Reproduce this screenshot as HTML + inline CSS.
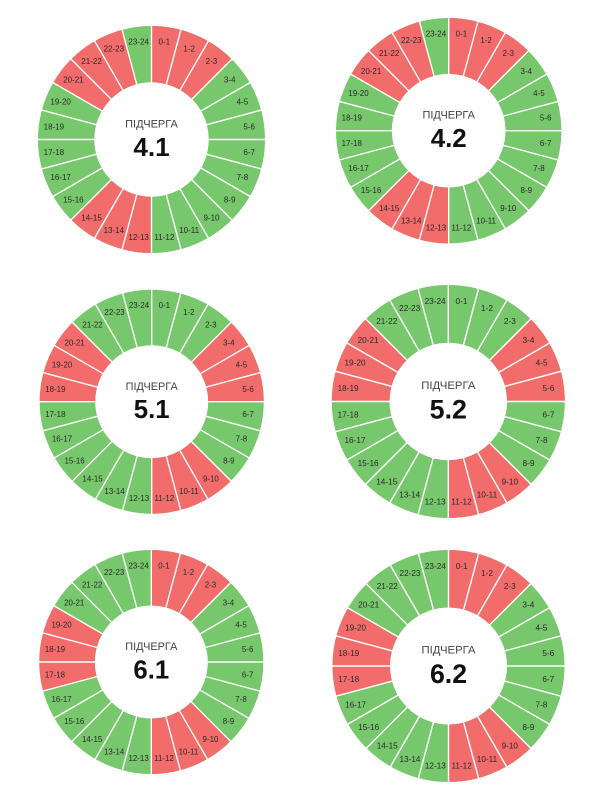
<!DOCTYPE html>
<html>
<head>
<meta charset="utf-8">
<style>
html,body{margin:0;padding:0;background:#fff;}
svg{display:block;}
.lbl{font-family:"Liberation Sans","DejaVu Sans",sans-serif;font-size:8px;fill:#2a2a2a;text-anchor:middle;}
.ttl{font-family:"Liberation Sans","DejaVu Sans",sans-serif;font-size:11px;fill:#444;text-anchor:middle;}
.num{font-family:"Liberation Sans","DejaVu Sans",sans-serif;font-size:26px;font-weight:bold;fill:#111;text-anchor:middle;}
</style>
</head>
<body>
<svg width="600" height="800" viewBox="0 0 600 800" xmlns="http://www.w3.org/2000/svg">
<defs>
<g id="sep" stroke="#fff" stroke-width="1.4">
<line x1="0" y1="-56" x2="0" y2="-115" transform="rotate(0)"/>
<line x1="0" y1="-56" x2="0" y2="-115" transform="rotate(15)"/>
<line x1="0" y1="-56" x2="0" y2="-115" transform="rotate(30)"/>
<line x1="0" y1="-56" x2="0" y2="-115" transform="rotate(45)"/>
<line x1="0" y1="-56" x2="0" y2="-115" transform="rotate(60)"/>
<line x1="0" y1="-56" x2="0" y2="-115" transform="rotate(75)"/>
<line x1="0" y1="-56" x2="0" y2="-115" transform="rotate(90)"/>
<line x1="0" y1="-56" x2="0" y2="-115" transform="rotate(105)"/>
<line x1="0" y1="-56" x2="0" y2="-115" transform="rotate(120)"/>
<line x1="0" y1="-56" x2="0" y2="-115" transform="rotate(135)"/>
<line x1="0" y1="-56" x2="0" y2="-115" transform="rotate(150)"/>
<line x1="0" y1="-56" x2="0" y2="-115" transform="rotate(165)"/>
<line x1="0" y1="-56" x2="0" y2="-115" transform="rotate(180)"/>
<line x1="0" y1="-56" x2="0" y2="-115" transform="rotate(195)"/>
<line x1="0" y1="-56" x2="0" y2="-115" transform="rotate(210)"/>
<line x1="0" y1="-56" x2="0" y2="-115" transform="rotate(225)"/>
<line x1="0" y1="-56" x2="0" y2="-115" transform="rotate(240)"/>
<line x1="0" y1="-56" x2="0" y2="-115" transform="rotate(255)"/>
<line x1="0" y1="-56" x2="0" y2="-115" transform="rotate(270)"/>
<line x1="0" y1="-56" x2="0" y2="-115" transform="rotate(285)"/>
<line x1="0" y1="-56" x2="0" y2="-115" transform="rotate(300)"/>
<line x1="0" y1="-56" x2="0" y2="-115" transform="rotate(315)"/>
<line x1="0" y1="-56" x2="0" y2="-115" transform="rotate(330)"/>
<line x1="0" y1="-56" x2="0" y2="-115" transform="rotate(345)"/>
</g>
</defs>

<!-- Chart 4.1 -->
<g transform="translate(151.5,139.5) scale(1.0044)">
<circle r="85" fill="none" stroke="#77c76c" stroke-width="56"/>
<circle r="85" fill="none" stroke="#f36c6c" stroke-width="56" transform="rotate(-90)" stroke-dasharray="66.759 200.277 66.759 111.265 66.759 22.253"/>
<use href="#sep"/>
<g class="lbl">
<text x="12.8" y="-97.2" dy="2.8">0-1</text><text x="37.5" y="-90.5" dy="2.8">1-2</text><text x="59.7" y="-77.8" dy="2.8">2-3</text><text x="77.8" y="-59.7" dy="2.8">3-4</text><text x="90.5" y="-37.5" dy="2.8">4-5</text><text x="97.2" y="-12.8" dy="2.8">5-6</text><text x="97.2" y="12.8" dy="2.8">6-7</text><text x="90.5" y="37.5" dy="2.8">7-8</text><text x="77.8" y="59.7" dy="2.8">8-9</text><text x="59.7" y="77.8" dy="2.8">9-10</text><text x="37.5" y="90.5" dy="2.8">10-11</text><text x="12.8" y="97.2" dy="2.8">11-12</text><text x="-12.8" y="97.2" dy="2.8">12-13</text><text x="-37.5" y="90.5" dy="2.8">13-14</text><text x="-59.7" y="77.8" dy="2.8">14-15</text><text x="-77.8" y="59.7" dy="2.8">15-16</text><text x="-90.5" y="37.5" dy="2.8">16-17</text><text x="-97.2" y="12.8" dy="2.8">17-18</text><text x="-97.2" y="-12.8" dy="2.8">18-19</text><text x="-90.5" y="-37.5" dy="2.8">19-20</text><text x="-77.8" y="-59.7" dy="2.8">20-21</text><text x="-59.7" y="-77.8" dy="2.8">21-22</text><text x="-37.5" y="-90.5" dy="2.8">22-23</text><text x="-12.8" y="-97.2" dy="2.8">23-24</text>
</g>
<text class="ttl" x="0" y="-12">ПІДЧЕРГА</text>
<text class="num" x="0" y="16.5">4.1</text>
</g>

<!-- Chart 4.2 -->
<g transform="translate(448.7,130.7) scale(0.9973)">
<circle r="85" fill="none" stroke="#77c76c" stroke-width="56"/>
<circle r="85" fill="none" stroke="#f36c6c" stroke-width="56" transform="rotate(-90)" stroke-dasharray="66.759 200.277 66.759 111.265 66.759 22.253"/>
<use href="#sep"/>
<g class="lbl">
<text x="12.8" y="-97.2" dy="2.8">0-1</text><text x="37.5" y="-90.5" dy="2.8">1-2</text><text x="59.7" y="-77.8" dy="2.8">2-3</text><text x="77.8" y="-59.7" dy="2.8">3-4</text><text x="90.5" y="-37.5" dy="2.8">4-5</text><text x="97.2" y="-12.8" dy="2.8">5-6</text><text x="97.2" y="12.8" dy="2.8">6-7</text><text x="90.5" y="37.5" dy="2.8">7-8</text><text x="77.8" y="59.7" dy="2.8">8-9</text><text x="59.7" y="77.8" dy="2.8">9-10</text><text x="37.5" y="90.5" dy="2.8">10-11</text><text x="12.8" y="97.2" dy="2.8">11-12</text><text x="-12.8" y="97.2" dy="2.8">12-13</text><text x="-37.5" y="90.5" dy="2.8">13-14</text><text x="-59.7" y="77.8" dy="2.8">14-15</text><text x="-77.8" y="59.7" dy="2.8">15-16</text><text x="-90.5" y="37.5" dy="2.8">16-17</text><text x="-97.2" y="12.8" dy="2.8">17-18</text><text x="-97.2" y="-12.8" dy="2.8">18-19</text><text x="-90.5" y="-37.5" dy="2.8">19-20</text><text x="-77.8" y="-59.7" dy="2.8">20-21</text><text x="-59.7" y="-77.8" dy="2.8">21-22</text><text x="-37.5" y="-90.5" dy="2.8">22-23</text><text x="-12.8" y="-97.2" dy="2.8">23-24</text>
</g>
<text class="ttl" x="0" y="-12">ПІДЧЕРГА</text>
<text class="num" x="0" y="16.5">4.2</text>
</g>

<!-- Chart 5.1 -->
<g transform="translate(151.7,401.7) scale(0.9912)">
<circle r="85" fill="none" stroke="#77c76c" stroke-width="56"/>
<circle r="85" fill="none" stroke="#f36c6c" stroke-width="56" transform="rotate(-90)" stroke-dasharray="0 66.759 66.759 66.759 66.759 133.518 66.759 66.759"/>
<use href="#sep"/>
<g class="lbl">
<text x="12.8" y="-97.2" dy="2.8">0-1</text><text x="37.5" y="-90.5" dy="2.8">1-2</text><text x="59.7" y="-77.8" dy="2.8">2-3</text><text x="77.8" y="-59.7" dy="2.8">3-4</text><text x="90.5" y="-37.5" dy="2.8">4-5</text><text x="97.2" y="-12.8" dy="2.8">5-6</text><text x="97.2" y="12.8" dy="2.8">6-7</text><text x="90.5" y="37.5" dy="2.8">7-8</text><text x="77.8" y="59.7" dy="2.8">8-9</text><text x="59.7" y="77.8" dy="2.8">9-10</text><text x="37.5" y="90.5" dy="2.8">10-11</text><text x="12.8" y="97.2" dy="2.8">11-12</text><text x="-12.8" y="97.2" dy="2.8">12-13</text><text x="-37.5" y="90.5" dy="2.8">13-14</text><text x="-59.7" y="77.8" dy="2.8">14-15</text><text x="-77.8" y="59.7" dy="2.8">15-16</text><text x="-90.5" y="37.5" dy="2.8">16-17</text><text x="-97.2" y="12.8" dy="2.8">17-18</text><text x="-97.2" y="-12.8" dy="2.8">18-19</text><text x="-90.5" y="-37.5" dy="2.8">19-20</text><text x="-77.8" y="-59.7" dy="2.8">20-21</text><text x="-59.7" y="-77.8" dy="2.8">21-22</text><text x="-37.5" y="-90.5" dy="2.8">22-23</text><text x="-12.8" y="-97.2" dy="2.8">23-24</text>
</g>
<text class="ttl" x="0" y="-12">ПІДЧЕРГА</text>
<text class="num" x="0" y="16.5">5.1</text>
</g>

<!-- Chart 5.2 -->
<g transform="translate(448.3,401.5) scale(1.031)">
<circle r="85" fill="none" stroke="#77c76c" stroke-width="56"/>
<circle r="85" fill="none" stroke="#f36c6c" stroke-width="56" transform="rotate(-90)" stroke-dasharray="0 66.759 66.759 66.759 66.759 133.518 66.759 66.759"/>
<use href="#sep"/>
<g class="lbl">
<text x="12.8" y="-97.2" dy="2.8">0-1</text><text x="37.5" y="-90.5" dy="2.8">1-2</text><text x="59.7" y="-77.8" dy="2.8">2-3</text><text x="77.8" y="-59.7" dy="2.8">3-4</text><text x="90.5" y="-37.5" dy="2.8">4-5</text><text x="97.2" y="-12.8" dy="2.8">5-6</text><text x="97.2" y="12.8" dy="2.8">6-7</text><text x="90.5" y="37.5" dy="2.8">7-8</text><text x="77.8" y="59.7" dy="2.8">8-9</text><text x="59.7" y="77.8" dy="2.8">9-10</text><text x="37.5" y="90.5" dy="2.8">10-11</text><text x="12.8" y="97.2" dy="2.8">11-12</text><text x="-12.8" y="97.2" dy="2.8">12-13</text><text x="-37.5" y="90.5" dy="2.8">13-14</text><text x="-59.7" y="77.8" dy="2.8">14-15</text><text x="-77.8" y="59.7" dy="2.8">15-16</text><text x="-90.5" y="37.5" dy="2.8">16-17</text><text x="-97.2" y="12.8" dy="2.8">17-18</text><text x="-97.2" y="-12.8" dy="2.8">18-19</text><text x="-90.5" y="-37.5" dy="2.8">19-20</text><text x="-77.8" y="-59.7" dy="2.8">20-21</text><text x="-59.7" y="-77.8" dy="2.8">21-22</text><text x="-37.5" y="-90.5" dy="2.8">22-23</text><text x="-12.8" y="-97.2" dy="2.8">23-24</text>
</g>
<text class="ttl" x="0" y="-12">ПІДЧЕРГА</text>
<text class="num" x="0" y="16.5">5.2</text>
</g>

<!-- Chart 6.1 -->
<g transform="translate(151.3,662) scale(0.9912)">
<circle r="85" fill="none" stroke="#77c76c" stroke-width="56"/>
<circle r="85" fill="none" stroke="#f36c6c" stroke-width="56" transform="rotate(-90)" stroke-dasharray="66.759 133.518 66.759 111.265 66.759 89.012"/>
<use href="#sep"/>
<g class="lbl">
<text x="12.8" y="-97.2" dy="2.8">0-1</text><text x="37.5" y="-90.5" dy="2.8">1-2</text><text x="59.7" y="-77.8" dy="2.8">2-3</text><text x="77.8" y="-59.7" dy="2.8">3-4</text><text x="90.5" y="-37.5" dy="2.8">4-5</text><text x="97.2" y="-12.8" dy="2.8">5-6</text><text x="97.2" y="12.8" dy="2.8">6-7</text><text x="90.5" y="37.5" dy="2.8">7-8</text><text x="77.8" y="59.7" dy="2.8">8-9</text><text x="59.7" y="77.8" dy="2.8">9-10</text><text x="37.5" y="90.5" dy="2.8">10-11</text><text x="12.8" y="97.2" dy="2.8">11-12</text><text x="-12.8" y="97.2" dy="2.8">12-13</text><text x="-37.5" y="90.5" dy="2.8">13-14</text><text x="-59.7" y="77.8" dy="2.8">14-15</text><text x="-77.8" y="59.7" dy="2.8">15-16</text><text x="-90.5" y="37.5" dy="2.8">16-17</text><text x="-97.2" y="12.8" dy="2.8">17-18</text><text x="-97.2" y="-12.8" dy="2.8">18-19</text><text x="-90.5" y="-37.5" dy="2.8">19-20</text><text x="-77.8" y="-59.7" dy="2.8">20-21</text><text x="-59.7" y="-77.8" dy="2.8">21-22</text><text x="-37.5" y="-90.5" dy="2.8">22-23</text><text x="-12.8" y="-97.2" dy="2.8">23-24</text>
</g>
<text class="ttl" x="0" y="-12">ПІДЧЕРГА</text>
<text class="num" x="0" y="16.5">6.1</text>
</g>

<!-- Chart 6.2 -->
<g transform="translate(448.5,666) scale(1.0265)">
<circle r="85" fill="none" stroke="#77c76c" stroke-width="56"/>
<circle r="85" fill="none" stroke="#f36c6c" stroke-width="56" transform="rotate(-90)" stroke-dasharray="66.759 133.518 66.759 111.265 66.759 89.012"/>
<use href="#sep"/>
<g class="lbl">
<text x="12.8" y="-97.2" dy="2.8">0-1</text><text x="37.5" y="-90.5" dy="2.8">1-2</text><text x="59.7" y="-77.8" dy="2.8">2-3</text><text x="77.8" y="-59.7" dy="2.8">3-4</text><text x="90.5" y="-37.5" dy="2.8">4-5</text><text x="97.2" y="-12.8" dy="2.8">5-6</text><text x="97.2" y="12.8" dy="2.8">6-7</text><text x="90.5" y="37.5" dy="2.8">7-8</text><text x="77.8" y="59.7" dy="2.8">8-9</text><text x="59.7" y="77.8" dy="2.8">9-10</text><text x="37.5" y="90.5" dy="2.8">10-11</text><text x="12.8" y="97.2" dy="2.8">11-12</text><text x="-12.8" y="97.2" dy="2.8">12-13</text><text x="-37.5" y="90.5" dy="2.8">13-14</text><text x="-59.7" y="77.8" dy="2.8">14-15</text><text x="-77.8" y="59.7" dy="2.8">15-16</text><text x="-90.5" y="37.5" dy="2.8">16-17</text><text x="-97.2" y="12.8" dy="2.8">17-18</text><text x="-97.2" y="-12.8" dy="2.8">18-19</text><text x="-90.5" y="-37.5" dy="2.8">19-20</text><text x="-77.8" y="-59.7" dy="2.8">20-21</text><text x="-59.7" y="-77.8" dy="2.8">21-22</text><text x="-37.5" y="-90.5" dy="2.8">22-23</text><text x="-12.8" y="-97.2" dy="2.8">23-24</text>
</g>
<text class="ttl" x="0" y="-12">ПІДЧЕРГА</text>
<text class="num" x="0" y="16.5">6.2</text>
</g>
</svg>
</body>
</html>
